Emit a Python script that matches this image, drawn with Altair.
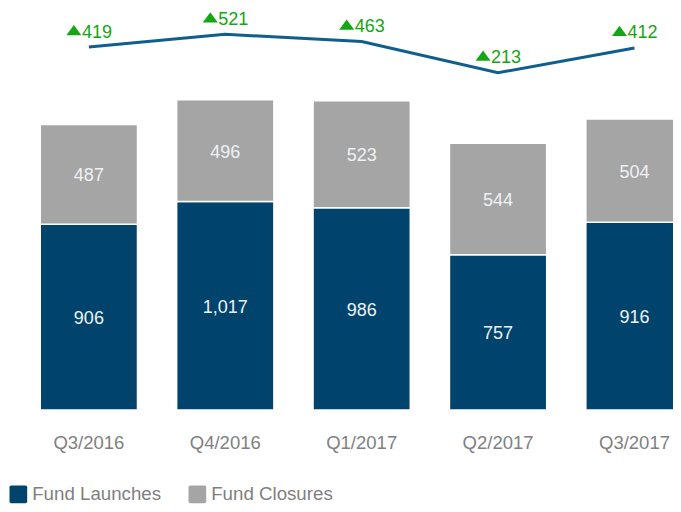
import altair as alt
import pandas as pd

quarters = ["Q3/2016", "Q4/2016", "Q1/2017", "Q2/2017", "Q3/2017"]
launches = [906, 1017, 986, 757, 916]
closures = [487, 496, 523, 544, 504]
net = [419, 521, 463, 213, 412]
series = ["Fund Launches", "Fund Closures"]

FONT = "Liberation Sans"
NAVY = "#00446E"
GRAY = "#A5A5A5"
LINE = "#0E5F8E"
GREEN = "#14A614"
ROUNDED = ("M-0.8,-1H0.8Q1,-1 1,-0.8V0.8Q1,1 0.8,1H-0.8Q-1,1 -1,0.8"
           "V-0.8Q-1,-1 -0.8,-1Z")
TRIANGLE = "M-1,0.68L1,0.68L0,-0.68Z"

rows = []
for q, l, c in zip(quarters, launches, closures):
    rows.append({"quarter": q, "series": series[0], "value": l, "ord": 0, "mid": l / 2})
    rows.append({"quarter": q, "series": series[1], "value": c, "ord": 1, "mid": l + c / 2})
bars_df = pd.DataFrame(rows)
net_df = pd.DataFrame({"quarter": quarters, "net": net})

xenc = alt.X("quarter:N", sort=quarters, title=None,
             scale=alt.Scale(range=[32.25, 675.1], paddingInner=0.287, paddingOuter=0),
             axis=alt.Axis(labelFont=FONT, labelFontSize=18.5, labelColor="#808080",
                           ticks=False, domain=False, labelPadding=23.5, labelAngle=0))
ybar = alt.Scale(domain=[0, 1961], nice=False, zero=True)
yline = alt.Scale(domain=[-2492, 732], nice=False, zero=False)

bars = alt.Chart(bars_df).mark_bar(stroke="white", strokeWidth=1.5).encode(
    x=xenc,
    y=alt.Y("value:Q", stack="zero", scale=ybar, axis=None),
    color=alt.Color("series:N", sort=series,
                    scale=alt.Scale(domain=series, range=[NAVY, GRAY]),
                    legend=alt.Legend(orient="none", legendX=1, legendY=476.5,
                                      direction="horizontal", title=None,
                                      symbolType=ROUNDED, symbolSize=313,
                                      symbolStrokeWidth=0, labelFont=FONT,
                                      labelFontSize=18.7, labelColor="#7f7f7f",
                                      labelOffset=4.5, columnPadding=26, padding=0,
                                      labelLimit=300)),
    order=alt.Order("ord:Q"),
)

bar_text = alt.Chart(bars_df).mark_text(font=FONT, fontSize=18, color="#EEF2F5",
                                        baseline="middle", dy=2).encode(
    x=alt.X("quarter:N", sort=quarters),
    y=alt.Y("mid:Q", scale=ybar, axis=None),
    text=alt.Text("value:Q", format=","),
)

line = alt.Chart(net_df).mark_line(color=LINE, strokeWidth=3).encode(
    x=alt.X("quarter:N", sort=quarters),
    y=alt.Y("net:Q", scale=yline, axis=None),
)

tri = alt.Chart(net_df).mark_point(shape=TRIANGLE, filled=True, opacity=1,
                                   color=GREEN, size=225, strokeWidth=0,
                                   xOffset=-15, yOffset=-17).encode(
    x=alt.X("quarter:N", sort=quarters),
    y=alt.Y("net:Q", scale=yline, axis=None),
)

line_text = alt.Chart(net_df).mark_text(font=FONT, fontSize=18, color=GREEN,
                                        align="left", baseline="alphabetic",
                                        dx=-7, dy=-9.5).encode(
    x=alt.X("quarter:N", sort=quarters),
    y=alt.Y("net:Q", scale=yline, axis=None),
    text=alt.Text("net:Q"),
)

chart = alt.layer(bars, bar_text, line, tri, line_text).resolve_scale(
    y="independent"
).properties(
    width=665, height=402,
    autosize=alt.AutoSizeParams(type="none"),
    padding={"left": 0, "top": 0, "right": 0, "bottom": 94},
).configure_view(stroke=None)

chart.save("out.html", embed_options={"renderer": "svg", "actions": False})
